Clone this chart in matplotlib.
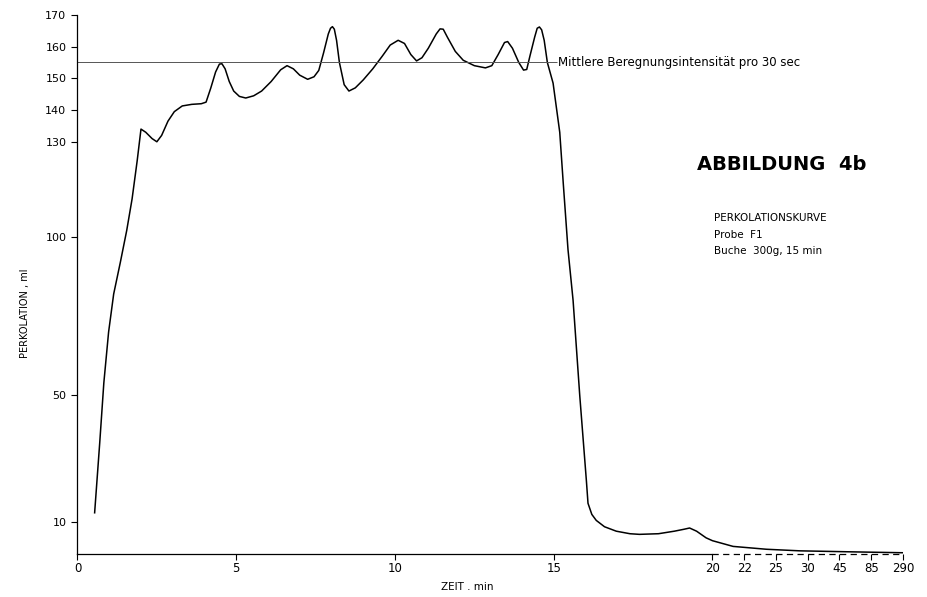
import matplotlib
matplotlib.use("Agg")
import matplotlib.pyplot as plt
import numpy as np

plt.rcParams['font.family'] = ['DejaVu Sans']

# Perkolationskurve, Probe F1 (Zeit in min, Perkolation in ml)
zeit = [0.54, 0.70, 0.83, 0.98, 1.14, 1.35, 1.55, 1.72, 1.88, 2.00,
        2.15, 2.35, 2.50, 2.65, 2.85, 3.05, 3.30, 3.60, 3.90, 4.05,
        4.20, 4.35, 4.47, 4.55, 4.65, 4.78, 4.92, 5.10, 5.30, 5.55, 5.80,
        6.10, 6.40, 6.60, 6.80, 7.00, 7.25, 7.45, 7.60, 7.75, 7.90,
        7.97, 8.03, 8.09, 8.16, 8.25, 8.40, 8.55, 8.75, 9.00, 9.30, 9.60, 9.85,
        10.10, 10.30, 10.50, 10.68, 10.85, 11.05, 11.30, 11.42, 11.52, 11.65, 11.90,
        12.15, 12.50, 12.85, 13.05, 13.25, 13.45, 13.55, 13.70, 13.90, 14.05, 14.15, 14.25,
        14.40, 14.48, 14.55, 14.62, 14.70, 14.80, 14.98, 15.19, 15.30, 15.45, 15.61, 15.82,
        16.03, 16.08, 16.20, 16.34, 16.60, 16.97, 17.40, 17.70, 18.30, 18.80,
        19.10, 19.28, 19.50, 19.80, 20.00, 21.3, 24.1, 28.8, 57.0, 290.0]
perkolation = [13.0, 35.0, 54.0, 70.0, 82.0, 92.0, 102.0, 112.0, 124.0, 134.0,
               133.0, 131.0, 130.0, 132.0, 136.5, 139.5, 141.3, 141.8, 142.0, 142.5,
               147.0, 152.0, 154.5, 154.6, 153.0, 149.0, 146.0, 144.3, 143.8, 144.5, 146.0,
               149.0, 152.7, 154.0, 153.0, 151.0, 149.7, 150.5, 152.5, 158.0, 164.0,
               165.8, 166.3, 165.5, 162.0, 155.0, 148.0, 146.0, 147.0, 149.5, 153.0, 157.0, 160.5,
               162.0, 161.0, 157.5, 155.5, 156.5, 159.5, 164.0, 165.6, 165.5, 163.0, 158.5,
               155.7, 154.0, 153.3, 154.0, 157.5, 161.3, 161.6, 159.5, 155.0, 152.6, 152.8, 157.0,
               163.0, 165.8, 166.2, 165.3, 162.0, 155.0, 148.5, 133.0, 117.0, 96.0, 80.0, 50.0,
               23.0, 16.0, 12.5, 10.6, 8.6, 7.2, 6.4, 6.2, 6.4, 7.2,
               7.8, 8.2, 7.2, 5.1, 4.2, 2.4, 1.5, 1.0, 0.7, 0.4]

mittel = 155
mittel_bis = 15.1

x_ticks = [0, 5, 10, 15, 20, 22, 25, 30, 45, 85, 290]
y_ticks = [10, 50, 100, 130, 140, 150, 160, 170]

# gestauchte Zeitachse ab 20 min
t_knick = [-100, 0, 20, 22, 25, 30, 45, 85, 290, 2000]
p_knick = [-100, 0, 20, 21, 22, 23, 24, 25, 26, 27]


def vorwaerts(t):
    return np.interp(t, t_knick, p_knick)


def rueckwaerts(p):
    return np.interp(p, p_knick, t_knick)


fig = plt.figure(figsize=(9.28, 5.97), dpi=100)
ax = fig.add_axes([0.0835, 0.072, 0.8895, 0.903])
ax.set_xscale('function', functions=(vorwaerts, rueckwaerts))

ax.plot(zeit, perkolation, color='black', lw=1.1)

ax.hlines(mittel, 0, mittel_bis, color='#555555', lw=0.7)
ax.text(mittel_bis + 0.05, mittel, 'Mittlere Beregnungsintensität pro 30 sec',
        fontsize=8.5, va='center', ha='left')

ax.set_xlim(0, 290)
ax.set_ylim(0, 170)

for s in ['top', 'right']:
    ax.spines[s].set_visible(False)
ax.spines['bottom'].set_bounds(0, 20)
ax.spines['left'].set_linewidth(0.9)
ax.spines['bottom'].set_linewidth(0.9)
ax.plot([20, 290], [0, 0], color='black', lw=0.9, ls=(0, (5, 3.5)), clip_on=False)

ax.set_xticks(x_ticks)
ax.set_xticklabels([str(v) for v in x_ticks])
ax.set_yticks(y_ticks)
ax.set_yticklabels([str(v) for v in y_ticks])
ax.minorticks_off()
ax.tick_params(axis='x', direction='out', length=4, width=0.8, labelsize=8.5, pad=2)
ax.tick_params(axis='y', direction='out', length=4, width=0.8, labelsize=8, pad=4)

fig.text(25 / 928, 1 - 313 / 597, 'PERKOLATION , ml', rotation=90,
         fontsize=7, ha='center', va='center')
fig.text(467 / 928, 1 - 587 / 597, 'ZEIT . min', fontsize=7.5,
         ha='center', va='center')

fig.text(697 / 928, 1 - 165 / 597, 'ABBILDUNG  4b', fontsize=14,
         fontweight='bold', ha='left', va='center')
fig.text(714 / 928, 1 - 218 / 597, 'PERKOLATIONSKURVE', fontsize=7.5,
         ha='left', va='center')
fig.text(714 / 928, 1 - 235 / 597, 'Probe  F1', fontsize=7.5,
         ha='left', va='center')
fig.text(714 / 928, 1 - 251 / 597, 'Buche  300g, 15 min', fontsize=7.5,
         ha='left', va='center')

fig.savefig('out.png', dpi=100)
